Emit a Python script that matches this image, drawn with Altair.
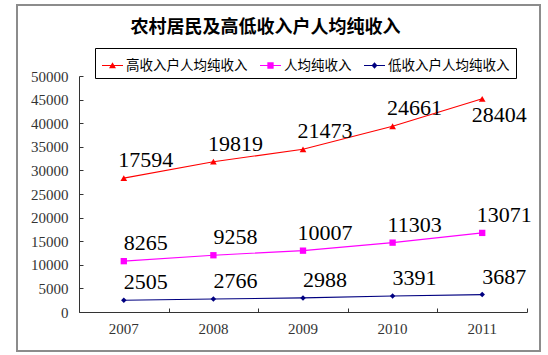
import altair as alt
import pandas as pd

# ---- data ----
years = ["2007", "2008", "2009", "2010", "2011"]
series_names = ["高收入户人均纯收入", "人均纯收入", "低收入户人均纯收入"]
high_income = [17594, 19819, 21473, 24661, 28404]
avg_income = [8265, 9258, 10007, 11303, 13071]
low_income = [2505, 2766, 2988, 3391, 3687]
stack_rank = [2, 1, 0]          # low at the bottom of the stack, high on top
y_ticks = [0, 5000, 10000, 15000, 20000, 25000, 30000, 35000, 40000, 45000, 50000]

colors = ["#FF0000", "#FF00FF", "#000080"]
marker_shapes = ["triangle-up", "square", "diamond"]
marker_sizes = [45, 40, 30]
# legend symbols: a short line with the marker on it
legend_paths = [
    "M-1,-0.05H1V0.05H-1Z M0,-0.3L0.33,0.26L-0.33,0.26Z",
    "M-1,-0.05H1V0.05H-1Z M-0.3,-0.3H0.3V0.3H-0.3Z",
    "M-1,-0.05H1V0.05H-1Z M0,-0.32L0.28,0L0,0.32L-0.28,0Z",
]

rows = []
for name, vals, rk in zip(series_names, [high_income, avg_income, low_income], stack_rank):
    for yr, v in zip(years, vals):
        rows.append({"year": yr, "series": name, "value": v, "rank": rk})
df = pd.DataFrame(rows)

W, H = 523, 346
x_scale = alt.Scale(type="band", domain=years, range=[62, 510], paddingInner=0, paddingOuter=0)
y_scale = alt.Scale(domain=[0, 50000], range=[307, 71], nice=False, zero=True)
color_scale = alt.Scale(domain=series_names, range=colors)

lab_font = "Liberation Serif"
axis_col = "#333333"

base = alt.Chart()

# invisible layer carrying the axis labels
axis_labels = base.mark_point(size=0, opacity=0).encode(
    x=alt.X("year:N", scale=x_scale,
            axis=alt.Axis(orient="bottom", offset=-(H - 307), domain=False, ticks=False, tickSize=0,
                          labelPadding=9, labelFont=lab_font, labelFontSize=15, labelAngle=0,
                          labelColor=axis_col, title=None, grid=False)),
    y=alt.Y("y1:Q", scale=y_scale,
            axis=alt.Axis(orient="left", offset=-62, values=y_ticks, format="d", domain=False,
                          ticks=False, tickSize=0, labelPadding=11, labelFont=lab_font,
                          labelFontSize=15, labelColor=axis_col, title=None, grid=False)),
)

# invisible layer carrying the axis lines / inward ticks and the legend
legend_layer = base.mark_point(filled=True, size=0, opacity=1).encode(
    x=alt.X("year:N", scale=x_scale,
            axis=alt.Axis(orient="top", offset=-307, labels=False, tickBand="extent", tickSize=4,
                          domainColor=axis_col, tickColor=axis_col, title=None, grid=False)),
    y=alt.Y("y1:Q", scale=y_scale,
            axis=alt.Axis(orient="right", offset=-(W - 62), values=y_ticks, labels=False, tickSize=4,
                          domainColor=axis_col, tickColor=axis_col, title=None, grid=False)),
    color=alt.Color("series:N", scale=color_scale,
                    legend=alt.Legend(orient="none", legendX=78, legendY=43, direction="horizontal",
                                      title=None, symbolSize=441, labelFont="Noto Sans CJK SC",
                                      labelFontSize=13.5, labelColor="#000000", columnPadding=11,
                                      labelOffset=2, padding=6, strokeColor="#000000",
                                      labelLimit=400)),
    shape=alt.Shape("series:N", scale=alt.Scale(domain=series_names, range=legend_paths)),
)

series_layers = []
for name, col, shp, sz in zip(series_names, colors, marker_shapes, marker_sizes):
    enc = dict(x=alt.X("year:N", scale=x_scale, axis=None),
               y=alt.Y("y1:Q", scale=y_scale, axis=None))
    series_layers.append(
        base.mark_line(strokeWidth=1.1, color=col).encode(**enc)
        .transform_filter(alt.datum.series == name)
    )
    series_layers.append(
        base.mark_point(shape=shp, filled=True, size=sz, color=col, opacity=1).encode(**enc)
        .transform_filter(alt.datum.series == name)
    )

is_last_high = (alt.datum.series == series_names[0]) & (alt.datum.year == years[-1])

labels = base.mark_text(font=lab_font, fontSize=22, align="center", baseline="alphabetic",
                        dx=22, dy=-11, color="#000000").encode(
    x=alt.X("year:N", scale=x_scale, axis=None),
    y=alt.Y("y1:Q", scale=y_scale, axis=None),
    text=alt.Text("value:Q", format="d"),
).transform_filter(~is_last_high)

labels_below = base.mark_text(font=lab_font, fontSize=22, align="center", baseline="alphabetic",
                              dx=17, dy=23, color="#000000").encode(
    x=alt.X("year:N", scale=x_scale, axis=None),
    y=alt.Y("y1:Q", scale=y_scale, axis=None),
    text=alt.Text("value:Q", format="d"),
).transform_filter(is_last_high)

chart = alt.layer(axis_labels, legend_layer, *series_layers, labels, labels_below, data=df).transform_stack(
    stack="value", groupby=["year"], sort=[alt.SortField("rank", order="ascending")], as_=["y0", "y1"]
).resolve_axis(x="independent", y="independent").properties(
    width=W, height=H, autosize="none",
    padding={"left": 17, "top": 5, "right": 8, "bottom": 4},
    background="#FFFFFF",
    title=alt.TitleParams("农村居民及高低收入户人均纯收入", anchor="middle", frame="group",
                          font="Noto Sans CJK SC", fontSize=18, fontWeight="bold",
                          color="#000000", offset=-32, dx=-13),
).configure_view(stroke="#8C8C8C", strokeWidth=2)

chart.save("out.html", embed_options={"renderer": "svg", "actions": False})
